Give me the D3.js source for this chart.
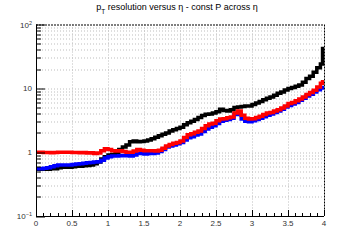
<!DOCTYPE html>
<html>
<head>
<meta charset="utf-8">
<script src="https://cdn.jsdelivr.net/npm/d3@7"></script>
<style>
  body { margin: 0; background: #fff; }
  svg { display: block; font-family: "Liberation Sans", Arial, sans-serif; }
  .tick-label { font-size: 8px; fill: #333; }
</style>
</head>
<body>
<div id="chart"></div>
<script>
// bin edges in eta (last bins narrower, as in the picture)
const etaEdges = d3.range(0, 79).map(i => i * 0.05).concat([3.95, 3.98, 4.0]);

const blackVals = [
  0.54, 0.54, 0.54, 0.54, 0.55, 0.55, 0.57, 0.58, 0.58, 0.58,
  0.59, 0.60, 0.60, 0.61, 0.62, 0.63, 0.66, 0.70, 0.78, 0.85,
  0.90, 0.92, 0.98, 1.10, 1.20, 1.30, 1.45, 1.50, 1.45, 1.47,
  1.50, 1.55, 1.62, 1.72, 1.80, 1.90, 2.00, 2.15, 2.25, 2.35,
  2.45, 2.70, 2.90, 3.05, 3.25, 3.50, 3.75, 3.92, 3.95, 4.10,
  4.30, 4.70, 4.50, 4.40, 4.60, 5.00, 5.10, 5.20, 5.30, 5.30,
  5.60, 5.90, 6.20, 6.60, 7.00, 7.30, 7.80, 8.40, 8.80, 9.40,
  9.90, 10.3, 10.8, 11.3, 12.5, 14.2, 15.5, 17.8, 21.0, 24.0, 42.0
];
const redVals = [
  1.00, 1.00, 0.99, 0.99, 0.98, 0.99, 1.00, 1.00, 1.00, 1.00,
  0.99, 0.99, 0.98, 0.99, 0.97, 0.98, 0.95, 0.97, 1.05, 1.13,
  1.10, 1.05, 1.04, 1.05, 1.02, 1.00, 1.00, 1.04, 1.10, 1.07,
  1.05, 1.05, 1.05, 1.04, 1.07, 1.15, 1.25, 1.32, 1.38, 1.42,
  1.50, 1.70, 1.88, 1.95, 2.05, 2.15, 2.35, 2.60, 2.75, 2.85,
  3.10, 3.30, 3.35, 3.45, 3.55, 4.10, 4.40, 3.80, 3.40, 3.30,
  3.35, 3.50, 3.65, 3.90, 4.10, 4.20, 4.40, 4.60, 4.90, 5.30,
  5.80, 6.00, 6.40, 6.80, 7.30, 8.00, 8.60, 9.30, 10.5, 12.0, 12.7
];
const blueVals = [
  0.55, 0.55, 0.56, 0.57, 0.59, 0.61, 0.63, 0.63, 0.63, 0.63,
  0.64, 0.65, 0.66, 0.67, 0.68, 0.69, 0.70, 0.71, 0.75, 0.81,
  0.85, 0.87, 0.87, 0.88, 0.89, 0.88, 0.87, 0.90, 0.95, 0.95,
  0.94, 0.95, 0.95, 0.97, 1.02, 1.10, 1.20, 1.25, 1.30, 1.36,
  1.42, 1.55, 1.68, 1.75, 1.85, 1.93, 2.10, 2.30, 2.45, 2.60,
  2.80, 3.05, 3.15, 3.25, 3.40, 3.90, 4.05, 3.30, 3.05, 3.00,
  3.10, 3.25, 3.40, 3.60, 3.80, 3.95, 4.20, 4.40, 4.70, 5.10,
  5.40, 5.70, 6.00, 6.50, 7.00, 7.60, 8.10, 8.80, 9.50, 10.1, 10.3
];

const series = [
  { name: 'black', color: '#000000', values: blackVals },
  { name: 'blue', color: '#0000ff', values: blueVals },
  { name: 'red', color: '#ff0000', values: redVals }
];

const xMajor = [0, 0.5, 1, 1.5, 2, 2.5, 3, 3.5, 4];
const xLabels = ['0', '0.5', '1', '1.5', '2', '2.5', '3', '3.5', '4'];
const yDecades = [0.1, 1, 10, 100];

const width = 360, height = 240;
const margin = { t: 24.5, r: 36, b: 24, l: 36 };
const w = width - margin.l - margin.r;
const h = height - margin.t - margin.b;

const svg = d3.select('#chart').append('svg')
  .attr('width', width)
  .attr('height', height);

const plot = svg.append('g')
  .attr('transform', `translate(${margin.l},${margin.t})`);

const scaleX = d3.scaleLinear().domain([0, 4]).range([0, w]);
const scaleY = d3.scaleLog().domain([0.1, 100]).range([h, 0]);

// minor log values
const yMinor = [];
[0.1, 1, 10].forEach(d => { for (let k = 2; k <= 9; k++) yMinor.push(d * k); });
const xMinor = d3.range(0, 41).map(i => i / 10);

// grid
plot.append('g').attr('class', 'grid')
  .selectAll('line.gy').data(yMinor.concat([1, 10])).enter().append('line')
  .attr('x1', 0).attr('x2', w)
  .attr('y1', d => Math.round(scaleY(d)) + 0.5)
  .attr('y2', d => Math.round(scaleY(d)) + 0.5)
  .attr('stroke', '#bdbdbd').attr('stroke-dasharray', '1,2');
plot.select('.grid')
  .selectAll('line.gx').data(xMajor.slice(1, -1)).enter().append('line')
  .attr('x1', d => Math.round(scaleX(d)) + 0.5)
  .attr('x2', d => Math.round(scaleX(d)) + 0.5)
  .attr('y1', 0).attr('y2', h)
  .attr('stroke', '#bdbdbd').attr('stroke-dasharray', '1,2');

// histograms as steps
const line = d3.line()
  .x(d => scaleX(d[0]))
  .y(d => scaleY(d[1]));

series.forEach(s => {
  const pts = [];
  s.values.forEach((v, i) => {
    pts.push([etaEdges[i], v]);
    pts.push([etaEdges[i + 1], v]);
  });
  plot.append('path')
    .attr('d', line(pts))
    .attr('fill', 'none')
    .attr('stroke', s.color)
    .attr('stroke-width', 3.5)
    .attr('stroke-linejoin', 'miter');
});

// top / right frame (dashed)
plot.append('line')
  .attr('x1', 0).attr('x2', w).attr('y1', 0.5).attr('y2', 0.5)
  .attr('stroke', '#000').attr('stroke-dasharray', '2,1');
plot.append('line')
  .attr('x1', w + 0.5).attr('x2', w + 0.5).attr('y1', 0).attr('y2', h)
  .attr('stroke', '#000').attr('stroke-dasharray', '2,1');

// x axis
const axisX = plot.append('g').attr('class', 'axis-x');
axisX.append('line')
  .attr('x1', 0).attr('x2', w).attr('y1', h + 0.5).attr('y2', h + 0.5)
  .attr('stroke', '#000');
axisX.selectAll('line.minor').data(xMinor).enter().append('line')
  .attr('x1', d => Math.round(scaleX(d)) + 0.5)
  .attr('x2', d => Math.round(scaleX(d)) + 0.5)
  .attr('y1', h).attr('y2', d => xMajor.includes(d) ? h - 6 : h - 3)
  .attr('stroke', '#000');
axisX.selectAll('text').data(xMajor).enter().append('text')
  .attr('class', 'tick-label')
  .attr('x', d => scaleX(d))
  .attr('y', h + 10)
  .attr('text-anchor', 'middle')
  .text((d, i) => xLabels[i]);

// y axis
const axisY = plot.append('g').attr('class', 'axis-y');
axisY.append('line')
  .attr('x1', 0.5).attr('x2', 0.5).attr('y1', 0).attr('y2', h)
  .attr('stroke', '#000');
axisY.selectAll('line.major').data(yDecades).enter().append('line')
  .attr('x1', 0).attr('x2', 9)
  .attr('y1', d => Math.round(scaleY(d)) + 0.5)
  .attr('y2', d => Math.round(scaleY(d)) + 0.5)
  .attr('stroke', '#000');
axisY.selectAll('line.minor').data(yMinor).enter().append('line')
  .attr('x1', 0).attr('x2', 5)
  .attr('y1', d => Math.round(scaleY(d)) + 0.5)
  .attr('y2', d => Math.round(scaleY(d)) + 0.5)
  .attr('stroke', '#000');

const yLab = axisY.selectAll('text').data(yDecades).enter().append('text')
  .attr('class', 'tick-label')
  .attr('x', -4)
  .attr('y', d => scaleY(d) + 3)
  .attr('text-anchor', 'end');
yLab.each(function(d) {
  const t = d3.select(this);
  if (d === 1) t.text('1');
  else if (d === 10) t.text('10');
  else {
    t.append('tspan').text('10');
    t.append('tspan').attr('dy', -3).style('font-size', '5.5px')
      .text(d === 0.1 ? '\u22121' : '2');
  }
});

// title
const title = svg.append('text')
  .attr('x', 177)
  .attr('y', 10)
  .attr('text-anchor', 'middle')
  .style('font-size', '9px')
  .attr('fill', '#000');
title.append('tspan').text('p');
title.append('tspan').attr('dy', 4).style('font-size', '6.5px').text('T');
title.append('tspan').attr('dy', -4).text(' resolution versus \u03b7 - const P across \u03b7');
</script>
</body>
</html>
